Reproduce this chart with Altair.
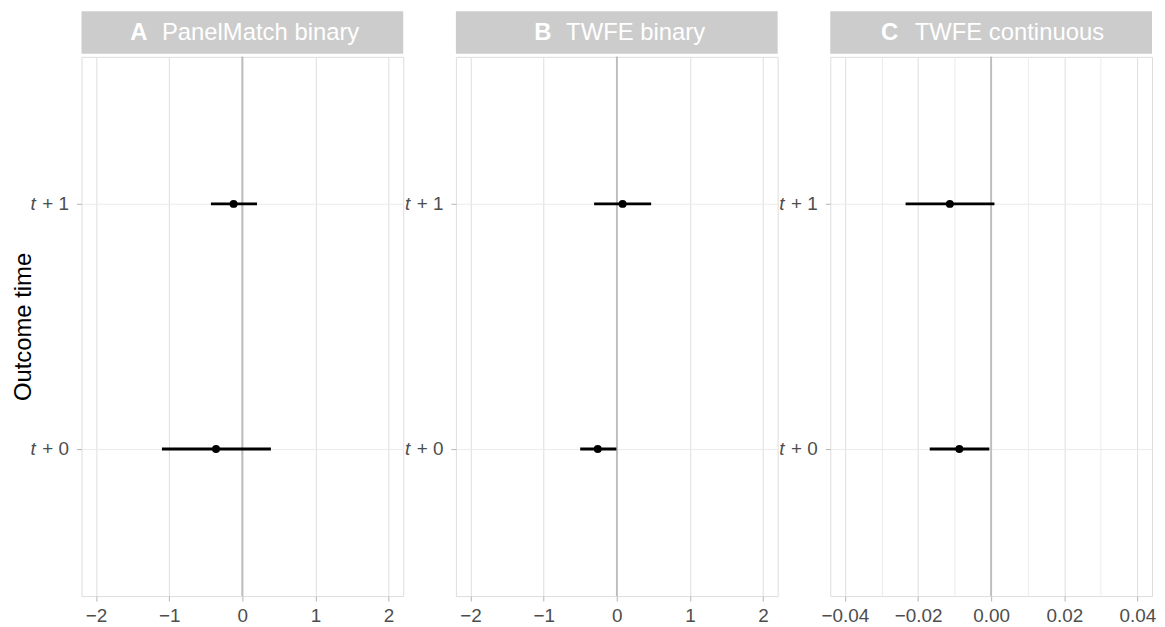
import altair as alt
import pandas as pd

# ---- data ----
panel_letters = ["A", "B", "C"]
panel_titles = ["PanelMatch binary", "TWFE binary", "TWFE continuous"]
times = ["t + 1", "t + 0"]

est_A = [-0.12, -0.36]
lo_A = [-0.43, -1.10]
hi_A = [0.20, 0.39]

est_B = [0.08, -0.26]
lo_B = [-0.31, -0.50]
hi_B = [0.47, -0.005]

est_C = [-0.0113, -0.0087]
lo_C = [-0.0234, -0.0168]
hi_C = [0.0009, -0.0005]

x_domains = [[-2.2, 2.2], [-2.2, 2.2], [-0.044, 0.044]]
tick_values_AB = [-2, -1.5, -1, -0.5, 0, 0.5, 1, 1.5, 2]
tick_values_C = [-0.04, -0.03, -0.02, -0.01, 0.0, 0.01, 0.02, 0.03, 0.04]
major_steps = [1, 1, 0.02]
tick_formats = ["d", "d", ".2f"]

ests = [est_A, est_B, est_C]
los = [lo_A, lo_B, lo_C]
his = [hi_A, hi_B, hi_C]
tick_values = [tick_values_AB, tick_values_AB, tick_values_C]

# ---- layout ----
W, H, STRIP_H = 324, 543, 43
strip_letter_x = [49, 79, 51]
strip_gap = 32
FONT = "Liberation Sans"


def make_panel(i):
    df = pd.DataFrame({"time": times, "est": ests[i], "lo": los[i], "hi": his[i], "zero": [0, 0]})
    step = major_steps[i]
    major = f"abs(datum.value/{step} - round(datum.value/{step})) < 1e-6"
    x_scale = alt.Scale(domain=x_domains[i], nice=False, zero=False)
    x_axis = alt.Axis(
        values=tick_values[i],
        format=tick_formats[i],
        labelExpr=f"({major}) ? datum.label : ''",
        grid=True,
        gridColor={"condition": {"test": major, "value": "#dedede"}, "value": "#ececec"},
        gridWidth=1,
        tickOpacity={"condition": {"test": major, "value": 1}, "value": 0},
        tickColor="#b3b3b3",
        tickSize=5,
        labelPadding=6,
        labelFontSize=19,
        labelColor="#4d4d4d",
        domain=False,
        title=None,
    )
    y_scale = alt.Scale(type="point", padding=0.6, domain=times)
    y_axis = alt.Axis(
        labelExpr="replace(datum.label, 't ', '')",
        grid=True,
        gridColor="#ebebeb",
        tickColor="#b3b3b3",
        tickSize=5,
        labelPadding=8,
        labelFontSize=19,
        labelColor="#4d4d4d",
        domain=False,
        titlePadding=6,
        titleFontSize=24,
        titleFontWeight="normal",
        titleColor="black",
    )
    y_title = "Outcome time" if i == 0 else None

    def X(field):
        return alt.X(f"{field}:Q", scale=x_scale, axis=x_axis, title=None)

    def Y():
        return alt.Y("time:N", scale=y_scale, axis=y_axis, title=y_title, sort=times)

    base = alt.Chart(df)
    zero = base.mark_rule(color="#bdbdbd", strokeWidth=1.6).encode(x=X("zero"))
    bars = base.mark_rule(color="black", strokeWidth=2.8).encode(
        x=X("lo"), x2="hi:Q", y=Y()
    )
    pts = base.mark_circle(color="black", size=64, opacity=1).encode(x=X("est"), y=Y())
    tlab = base.mark_text(
        text="t", fontStyle="italic", align="right", baseline="middle",
        fontSize=19, color="#4d4d4d", font=FONT
    ).encode(x=alt.value(-46), y=Y())
    plot = alt.layer(zero, bars, pts, tlab).properties(width=W, height=H)

    sdf = pd.DataFrame({"letter": [panel_letters[i]], "title": [panel_titles[i]]})
    sbase = alt.Chart(sdf)
    rect = sbase.mark_rect(color="#cccccc").encode(
        x=alt.value(0), x2=alt.value(W), y=alt.value(0), y2=alt.value(STRIP_H)
    )
    letter = sbase.mark_text(
        align="left", baseline="middle", fontSize=24, fontWeight="bold",
        color="white", font=FONT
    ).encode(x=alt.value(strip_letter_x[i]), y=alt.value(STRIP_H / 2 + 1), text="letter:N")
    title = sbase.mark_text(
        align="left", baseline="middle", fontSize=24, color="white", font=FONT
    ).encode(x=alt.value(strip_letter_x[i] + strip_gap + (2 if i == 2 else 0)),
             y=alt.value(STRIP_H / 2 + 1), text="title:N")
    strip = alt.layer(rect, letter, title).properties(
        width=W, height=STRIP_H, view=alt.ViewBackground(stroke="transparent")
    )
    return alt.vconcat(strip, plot, spacing=0)


chart = alt.hconcat(*[make_panel(i) for i in range(3)], spacing=0).properties(
    padding={"top": 0, "left": 3, "right": 0, "bottom": 0}
).configure_view(stroke="#b3b3b3", strokeWidth=1).configure(font=FONT)

chart.save("out.html", embed_options={"renderer": "svg", "actions": False})
